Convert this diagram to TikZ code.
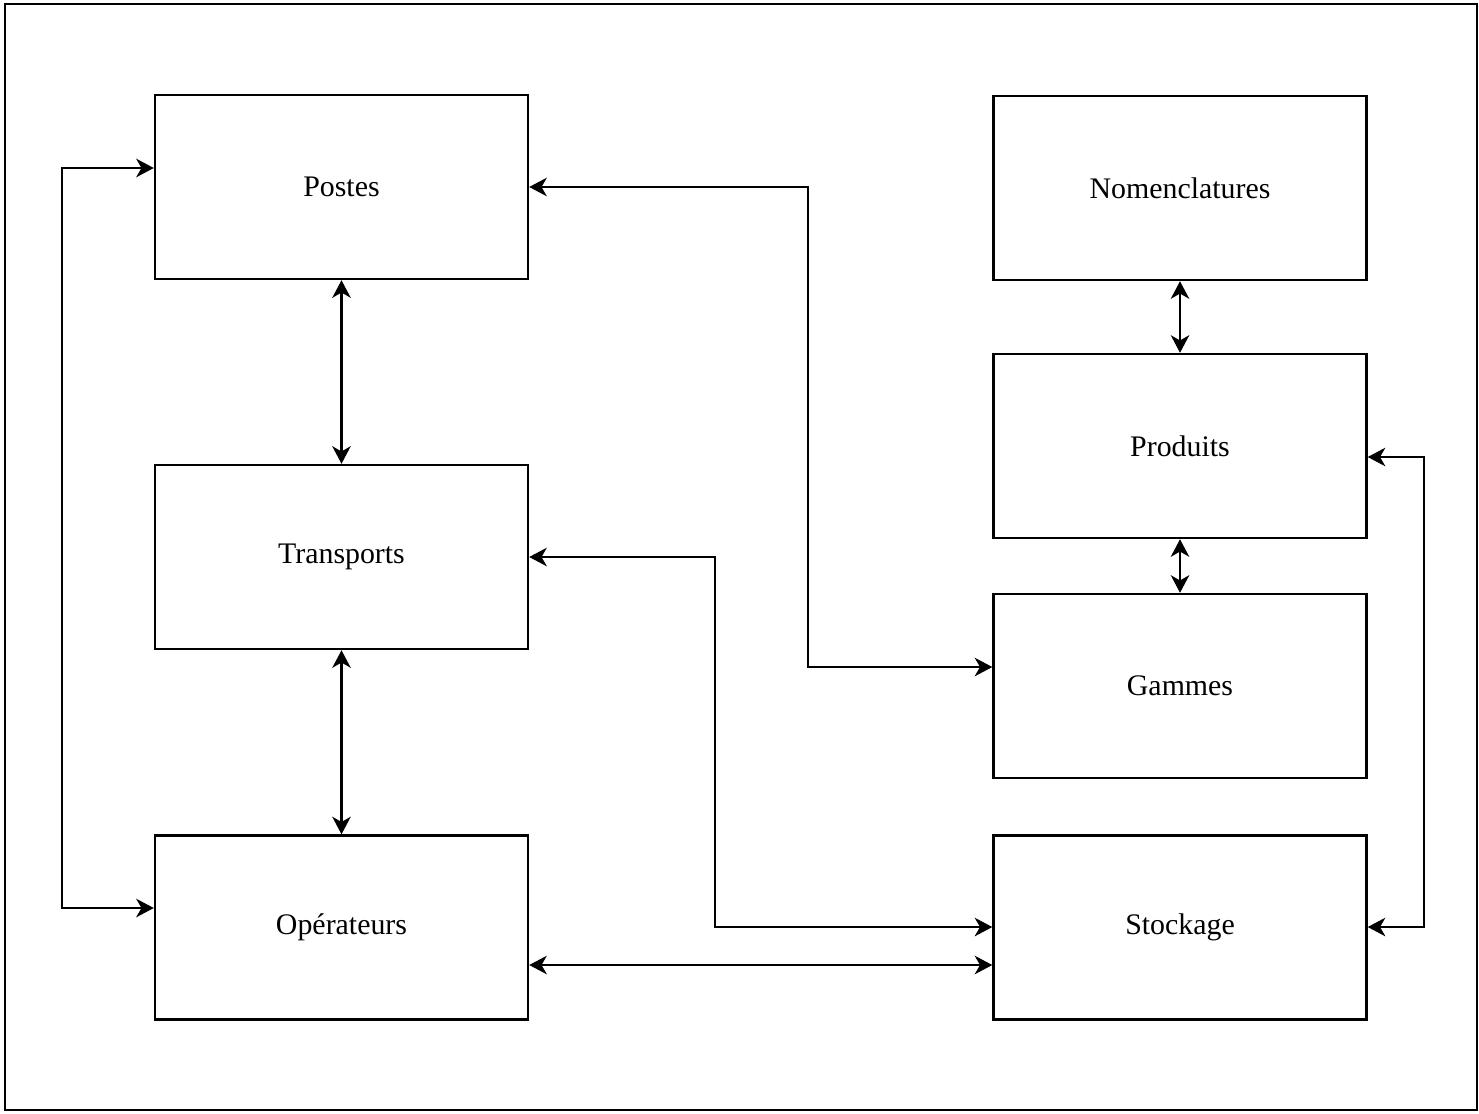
\documentclass[tikz,border=0pt]{standalone}
\usepackage{fontspec}
\setmainfont{Liberation Serif}
\usetikzlibrary{arrows.meta}
\begin{document}
\begin{tikzpicture}[x=0.02cm,y=-0.02cm,
  box/.style={draw,line width=1.4pt,minimum width=7.46cm,minimum height=3.68cm,inner sep=0pt,font=\fontsize{17}{20}\selectfont},
  tip/.style={Stealth[length=10pt,width=10.5pt,inset=3pt]},
  conn/.style={line width=1.4pt,{Stealth[length=10pt,width=10.5pt,inset=3pt]}-{Stealth[length=10pt,width=10.5pt,inset=3pt]}}]
\useasboundingbox (0,0) rectangle (1479,1113);
\draw[line width=1pt] (5,4) rectangle (1477,1110);
\node[box] (postes) at (341.5,187) {Postes};
\node[box] (transports) at (341.5,557) {Transports};
\node[box] (operateurs) at (341.5,927.5) {Opérateurs};
\node[box] (nomen) at (1180,188) {Nomenclatures};
\node[box] (produits) at (1180,446) {Produits};
\node[box] (gammes) at (1180,686) {Gammes};
\node[box] (stockage) at (1180,927.5) {Stockage};
\coordinate (lpa) at (62,168);
\coordinate (lpb) at (62,908);
\draw[conn] (postes.west |- lpa) -- (lpa) -- (lpb) -- (operateurs.west |- lpb);
\draw[conn] (postes.south) -- (transports.north);
\draw[conn] (transports.south) -- (operateurs.north);
\draw[conn] (postes.east) -- (808,187) -- (808,667) -- (gammes.west |- 0,667);
\draw[conn] (transports.east) -- (715,557) -- (715,927) -- (stockage.west |- 0,927);
\draw[conn] (operateurs.east |- 0,965) -- (stockage.west |- 0,965);
\draw[conn] (nomen.south) -- (produits.north);
\draw[conn] (produits.south) -- (gammes.north);
\draw[conn] (produits.east |- 0,457) -- (1424,457) -- (1424,927) -- (stockage.east |- 0,927);
\end{tikzpicture}
\end{document}
